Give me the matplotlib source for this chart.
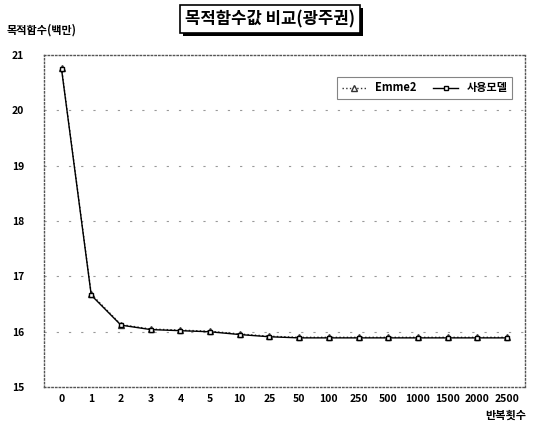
import matplotlib.pyplot as plt
from matplotlib.patches import Rectangle

plt.rcParams['font.family'] = ['Noto Sans CJK KR', 'DejaVu Sans']

# x categories (iteration counts) and objective values (millions)
iterations = ["0", "1", "2", "3", "4", "5", "10", "25", "50", "100",
              "250", "500", "1000", "1500", "2000", "2500"]
emme2 = [20.76, 16.68, 16.13, 16.05, 16.03, 16.01, 15.96, 15.92, 15.90, 15.90,
         15.90, 15.90, 15.90, 15.90, 15.90, 15.90]
model = [20.74, 16.66, 16.12, 16.04, 16.02, 16.00, 15.95, 15.91, 15.89, 15.89,
         15.89, 15.89, 15.89, 15.89, 15.89, 15.89]

fig = plt.figure(figsize=(5.4, 4.25), dpi=100)
ax = fig.add_axes([0.081, 0.089, 0.891, 0.782])

x = range(len(iterations))
ax.plot(x, emme2, color="#333333", linestyle=":", linewidth=1.0,
        marker="^", markersize=4.5, markerfacecolor="white",
        markeredgecolor="#333333", label="Emme2")
ax.plot(x, model, color="black", linestyle="-", linewidth=1.0,
        marker="s", markersize=3.5, markerfacecolor="white",
        markeredgecolor="black", label="사용모델")

ax.set_xlim(-0.6, len(iterations) - 0.4)
ax.set_ylim(15, 21)
ax.set_yticks([15, 16, 17, 18, 19, 20, 21])
ax.set_xticks(list(x))
ax.set_xticklabels(iterations)
ax.tick_params(length=0, labelsize=7.5)
ax.tick_params(axis="x", pad=5)
ax.tick_params(axis="y", pad=14)
for lab in ax.get_xticklabels() + ax.get_yticklabels():
    lab.set_fontweight("bold")

for yv in [16, 17, 18, 19, 20]:
    ax.axhline(yv, color="#999999", linestyle=(0, (2, 9)), linewidth=0.8, zorder=0)

for s in ax.spines.values():
    s.set_linestyle(":")
    s.set_color("#555555")
    s.set_linewidth(1.0)

leg = ax.legend(loc="upper right", ncol=2, frameon=True, fancybox=False,
                handlelength=2.2, columnspacing=1.5,
                bbox_to_anchor=(0.985, 0.95), prop={"weight": "bold", "size": 8})
leg.get_frame().set_edgecolor("#666666")
leg.get_frame().set_linewidth(0.8)

t = fig.text(0.5, 0.955, "목적함수값 비교(광주권)", ha="center", va="center",
             fontsize=12, fontweight="bold", zorder=3,
             bbox=dict(boxstyle="square,pad=0.3", facecolor="white",
                       edgecolor="black", linewidth=1.2))
fig.canvas.draw()
bb = t.get_bbox_patch().get_window_extent()
W, H = fig.bbox.width, fig.bbox.height
fig.patches.append(Rectangle(((bb.x0 + 3) / W, (bb.y0 - 3) / H), bb.width / W, bb.height / H,
                             transform=fig.transFigure, facecolor="black",
                             edgecolor="none", zorder=1))

fig.text(0.012, 0.93, "목적함수(백만)", ha="left", va="center",
         fontsize=8, fontweight="bold")
fig.text(0.975, 0.022, "반복횟수", ha="right", va="center",
         fontsize=8, fontweight="bold")

plt.savefig("out.png", dpi=100)
